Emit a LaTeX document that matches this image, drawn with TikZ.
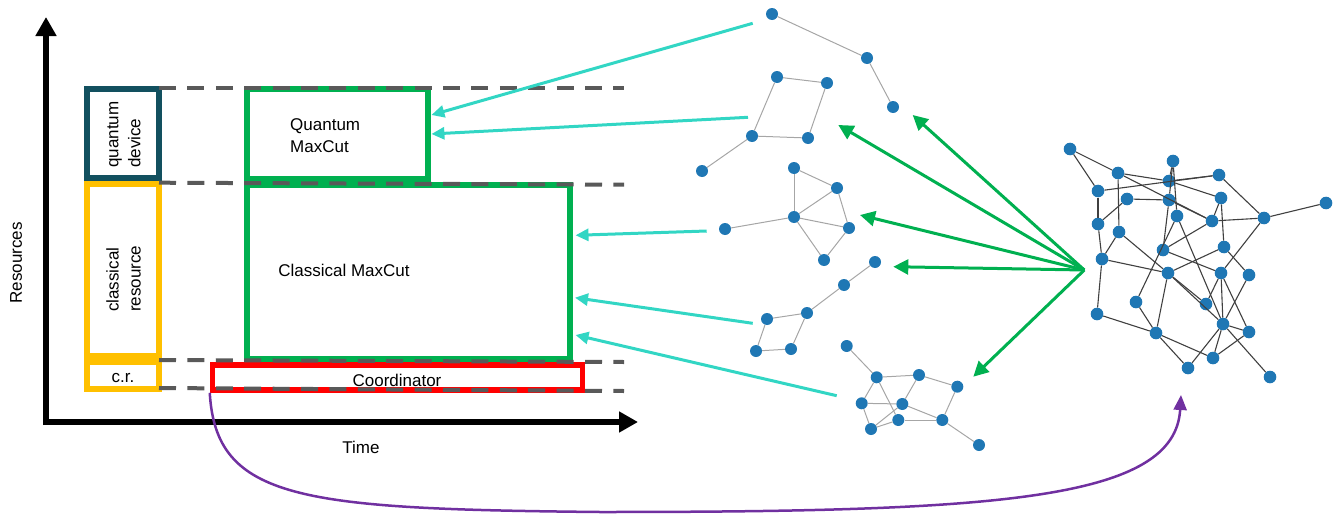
\documentclass[tikz,border=0pt]{standalone}
\usepackage{fontspec}
\setmainfont{Liberation Sans}
\usetikzlibrary{arrows.meta}
\definecolor{boxgreen}{HTML}{00B050}
\definecolor{qteal}{HTML}{12505F}
\definecolor{cyellow}{HTML}{FFC000}
\definecolor{cred}{HTML}{FF0000}
\definecolor{dashgray}{HTML}{595959}
\definecolor{tcyan}{RGB}{50,214,196}
\definecolor{agreen}{HTML}{00B050}
\definecolor{cpurple}{HTML}{7030A0}
\definecolor{vblue}{HTML}{1F77B4}
\definecolor{egray}{HTML}{A6A6A6}
\definecolor{edark}{HTML}{404040}
\begin{document}
\begin{tikzpicture}[x=1pt,y=-1pt,
  every node/.style={font=\fontsize{17}{22}\selectfont, inner sep=0pt},
  rbox/.style={draw=#1, line width=6pt, fill=none},
  vtx/.style={circle, fill=vblue, minimum size=12pt, inner sep=0pt},
  bvtx/.style={circle, fill=vblue, minimum size=12.6pt, inner sep=0pt},
  sedge/.style={draw=egray, line width=1pt},
  bedge/.style={draw=edark, line width=1.1pt},
  cyarrow/.style={draw=tcyan, line width=3pt, -{Triangle[length=13pt,width=12pt]}},
  garrow/.style={draw=agreen, line width=3pt, -{Triangle[length=15pt,width=15pt]}},
  parrow/.style={draw=cpurple, line width=2.5pt, -{Triangle[length=15pt,width=13pt]}},
  axisline/.style={draw=black, line width=6pt, -{Triangle[length=19pt,width=20pt]}},
  guide/.style={draw=dashgray, line width=4pt, dash pattern=on 17pt off 11.4pt}
]
\useasboundingbox (0,0) rectangle (1338,514);

% axes
\coordinate (origin) at (46,422);
\coordinate (ytip) at (46,17);
\coordinate (xtip) at (638,422);
\draw[axisline] (46,425) -- (ytip);
\draw[axisline] (43,422) -- (xtip);
\node[rotate=90] (lres) at (16,263) {Resources};
\node (ltime) at (361,447) {Time};

% resource boxes
\node[rbox=qteal, minimum width=71.5pt, minimum height=89.3pt] (qdev) at (122.75,133.35) {};
\node[rbox=cyellow, minimum width=72pt, minimum height=172pt] (cres) at (123,270) {};
\node[rbox=cyellow, minimum width=72pt, minimum height=26.5pt] (cr) at (123,375.25) {};
\node[rotate=90, anchor=west, align=left] (tqdev) at (124,168) {quantum\\device};
\node[rotate=90, anchor=west, align=left] (tcres) at (123.5,312) {classical\\resource};
\node (tcr) at (123,378) {c.r.};

% task boxes
\node[rbox=boxgreen, minimum width=180.5pt, minimum height=90pt] (qmc) at (337.25,134) {};
\node[rbox=boxgreen, minimum width=323pt, minimum height=173.5pt] (cmc) at (408.5,271.75) {};
\node[rbox=cred, line width=5.5pt, minimum width=370pt, minimum height=25pt] (coord) at (397.5,377.5) {};
\node[anchor=north west, align=left] (tqmc) at (290,118) {Quantum\\MaxCut};
\node (tcmc) at (344,270) {Classical MaxCut};
\node (tcoord) at (397,380) {Coordinator};

% dashed guides
\draw[guide] (159,88) -- (624,88);
\draw[guide] (159,182.7) -- (624,184.7);
\draw[guide] (159,360) -- (624,362);
\draw[guide] (159,388) -- (624,391);

% small graph 1
\node[vtx] (sa1) at (772,14) {};
\node[vtx] (sa2) at (867,58) {};
\node[vtx] (sa3) at (893,107) {};
\foreach \a/\b in {sa1/sa2, sa2/sa3} \draw[sedge] (\a) -- (\b);

% small graph 2
\node[vtx] (sb1) at (777,77) {};
\node[vtx] (sb2) at (827,83) {};
\node[vtx] (sb3) at (752,136) {};
\node[vtx] (sb4) at (808,138) {};
\node[vtx] (sb5) at (702,171) {};
\foreach \a/\b in {sb1/sb2, sb1/sb3, sb2/sb4, sb3/sb4, sb3/sb5} \draw[sedge] (\a) -- (\b);

% small graph 3
\node[vtx] (sc1) at (794,168) {};
\node[vtx] (sc2) at (837,188) {};
\node[vtx] (sc3) at (794,217) {};
\node[vtx] (sc4) at (725,229) {};
\node[vtx] (sc5) at (849,228) {};
\node[vtx] (sc6) at (824,260) {};
\foreach \a/\b in {sc1/sc2, sc1/sc3, sc2/sc3, sc2/sc5, sc3/sc4, sc3/sc5, sc3/sc6, sc5/sc6} \draw[sedge] (\a) -- (\b);

% small graph 4
\node[vtx] (sd1) at (875,262) {};
\node[vtx] (sd2) at (844,285) {};
\node[vtx] (sd3) at (807,313) {};
\node[vtx] (sd4) at (767,319) {};
\node[vtx] (sd5) at (756,351) {};
\node[vtx] (sd6) at (791,349) {};
\foreach \a/\b in {sd1/sd2, sd2/sd3, sd3/sd4, sd4/sd5, sd5/sd6, sd6/sd3} \draw[sedge] (\a) -- (\b);

% small graph 5
\node[vtx] (se1) at (846.7,346) {};
\node[vtx] (se2) at (876.7,377.3) {};
\node[vtx] (se3) at (919,375) {};
\node[vtx] (se4) at (957.3,386.7) {};
\node[vtx] (se5) at (861.7,403.3) {};
\node[vtx] (se6) at (902.3,404) {};
\node[vtx] (se7) at (898.3,420) {};
\node[vtx] (se8) at (942.3,420) {};
\node[vtx] (se9) at (871,429) {};
\node[vtx] (se10) at (979,445) {};
\foreach \a/\b in {se1/se2, se2/se3, se3/se4, se2/se5, se2/se7, se3/se6, se5/se6, se5/se9, se6/se9, se6/se8, se4/se8, se9/se7, se7/se8, se8/se10} \draw[sedge] (\a) -- (\b);

% big graph
\node[bvtx] (b1) at (1070,149) {};
\node[bvtx] (b2) at (1118,173) {};
\node[bvtx] (b3) at (1173,161) {};
\node[bvtx] (b4) at (1169,181) {};
\node[bvtx] (b5) at (1219,175) {};
\node[bvtx] (b6) at (1098,191) {};
\node[bvtx] (b7) at (1127,199) {};
\node[bvtx] (b8) at (1169,200) {};
\node[bvtx] (b9) at (1221,198) {};
\node[bvtx] (b10) at (1177,216) {};
\node[bvtx] (b11) at (1212,221) {};
\node[bvtx] (b12) at (1264,218) {};
\node[bvtx] (b13) at (1326,203) {};
\node[bvtx] (b14) at (1098,224) {};
\node[bvtx] (b15) at (1119,232) {};
\node[bvtx] (b16) at (1163,250) {};
\node[bvtx] (b17) at (1224,247) {};
\node[bvtx] (b18) at (1102,259) {};
\node[bvtx] (b19) at (1168,273) {};
\node[bvtx] (b20) at (1221,273) {};
\node[bvtx] (b21) at (1249,275) {};
\node[bvtx] (b22) at (1136,302) {};
\node[bvtx] (b23) at (1206,304) {};
\node[bvtx] (b24) at (1097,314) {};
\node[bvtx] (b25) at (1223,324) {};
\node[bvtx] (b26) at (1249,332) {};
\node[bvtx] (b27) at (1156,333) {};
\node[bvtx] (b28) at (1213,358) {};
\node[bvtx] (b29) at (1188,368) {};
\node[bvtx] (b30) at (1270,377) {};
\foreach \a/\b in {b1/b2, b1/b6, b2/b4, b2/b15, b2/b11, b6/b5, b6/b14, b7/b14, b7/b8, b8/b11,
  b3/b4, b3/b8, b3/b10, b4/b5, b4/b9, b5/b12, b8/b16, b9/b11, b9/b17, b11/b12, b12/b13, b12/b20,
  b11/b16, b10/b22, b10/b25, b14/b18, b15/b18, b15/b19, b18/b19, b18/b24, b16/b20, b17/b19,
  b17/b21, b19/b27, b19/b23, b19/b25, b20/b23, b20/b25, b20/b26, b21/b25, b22/b27, b24/b27,
  b27/b29, b27/b28, b25/b26, b25/b28, b25/b29, b25/b30, b26/b28}
  \draw[bedge] (\a) -- (\b);

% cyan arrows from small graphs to tasks
\coordinate (c1s) at (752.7,23.3);
\coordinate (c1e) at (431.4,115);
\coordinate (c2s) at (748,117.3);
\coordinate (c2e) at (431.4,134);
\coordinate (c3s) at (706.7,231);
\coordinate (c3e) at (575.5,235.3);
\coordinate (c4s) at (752.7,323.3);
\coordinate (c4e) at (575,297.7);
\coordinate (c5s) at (836.7,395.7);
\coordinate (c5e) at (575.5,335);
\draw[cyarrow] (c1s) -- (c1e);
\draw[cyarrow] (c2s) -- (c2e);
\draw[cyarrow] (c3s) -- (c3e);
\draw[cyarrow] (c4s) -- (c4e);
\draw[cyarrow] (c5s) -- (c5e);

% green arrows from big graph
\coordinate (hub) at (1084.3,270);
\coordinate (g1) at (838.3,125);
\coordinate (g2) at (912.7,115);
\coordinate (g3) at (860,215);
\coordinate (g4) at (893.3,266.7);
\coordinate (g5) at (973.3,376.7);
\foreach \t in {g1,g2,g3,g4,g5} \draw[garrow] (hub) -- (\t);

% purple arrow
\coordinate (pend) at (1181,395);
\draw[parrow] (coord.south west) .. controls (216,500) and (300,509) .. (600,512)
  .. controls (1000,512) and (1175,500) .. (pend);
\end{tikzpicture}
\end{document}
